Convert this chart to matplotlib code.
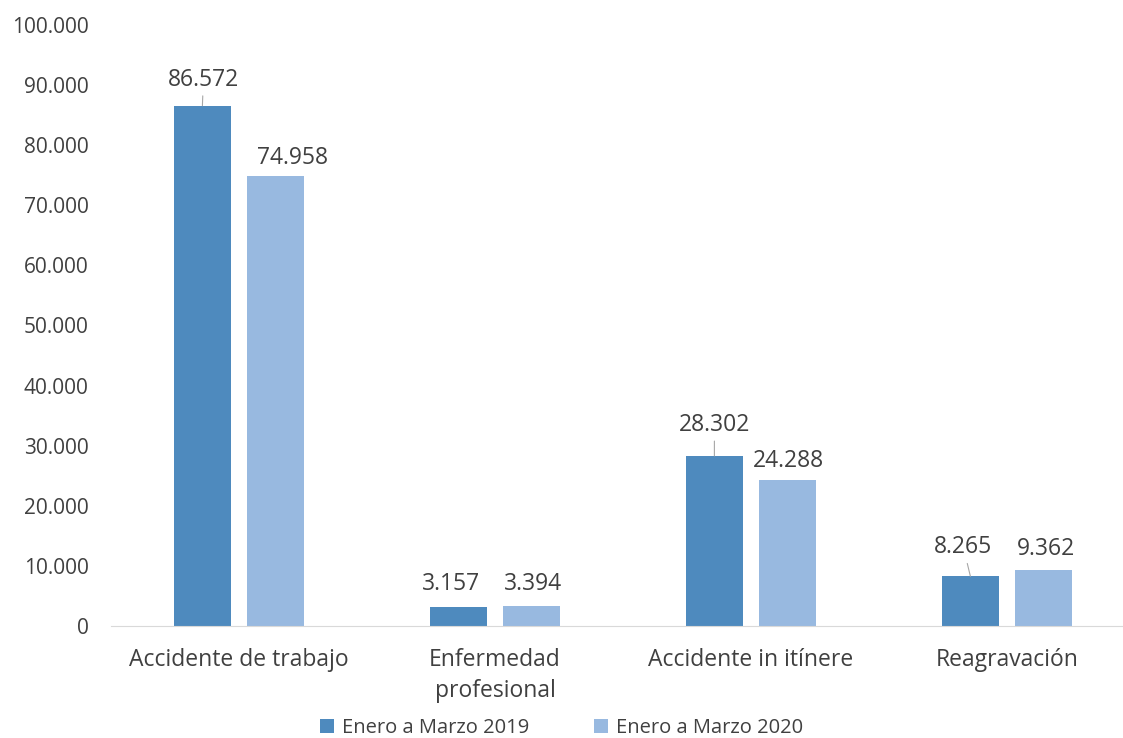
import numpy as np
import matplotlib
matplotlib.use("Agg")
import matplotlib.pyplot as plt
from matplotlib.ticker import FuncFormatter

# datos
categorias = ["Accidente de trabajo", "Enfermedad\nprofesional", "Accidente in itínere", "Reagravación"]
serie_2019 = [86572, 3157, 28302, 8265]
serie_2020 = [74958, 3394, 24288, 9362]
nombres = ["Enero a Marzo 2019", "Enero a Marzo 2020"]

# desplazamiento de las etiquetas en pixeles (dx, dy) y si llevan linea guia
off_2019 = [(1, 14, True), (-7, 11, False), (0, 19, True), (-7, 17, True)]
off_2020 = [(17, 6, False), (1, 10, False), (1, 7, False), (2, 9, False)]

plt.rcParams["font.family"] = ["Open Sans", "DejaVu Sans"]
texto = "#404040"

fig = plt.figure(figsize=(11.23, 7.38), dpi=100)
ax = fig.add_axes([111 / 1123, 1 - 626 / 738, 1024 / 1123, (626 - 25) / 738])

x = np.arange(len(categorias))
ancho = 0.223
sep = 0.143
b1 = ax.bar(x - sep, serie_2019, ancho, color="#4E8ABE", label=nombres[0])
b2 = ax.bar(x + sep, serie_2020, ancho, color="#98B9E0", label=nombres[1])

def fmt(v, pos=None):
    return f"{int(v):,}".replace(",", ".")

for barras, vals, offs in [(b1, serie_2019, off_2019), (b2, serie_2020, off_2020)]:
    for b, v, (dx, dy, guia) in zip(barras, vals, offs):
        cx = b.get_x() + b.get_width() / 2
        props = dict(arrowstyle="-", color="#a6a6a6", lw=0.8, shrinkA=1, shrinkB=0) if guia else None
        ax.annotate(fmt(v), xy=(cx, v), xytext=(dx, dy), textcoords="offset pixels",
                    ha="center", va="bottom", fontsize=16.5, color=texto, arrowprops=props)

ax.set_xlim(-0.5, 3.5)
ax.set_ylim(0, 100000)
ax.set_yticks(np.arange(0, 100001, 10000))
ax.yaxis.set_major_formatter(FuncFormatter(fmt))
ax.set_xticks(x)
ax.set_xticklabels(categorias, fontsize=16.5, color=texto, linespacing=1.4)
ax.tick_params(axis="y", length=0, pad=16, labelsize=15, labelcolor=texto)
ax.tick_params(axis="x", length=0, pad=16)

for s in ["top", "right", "left"]:
    ax.spines[s].set_visible(False)
ax.spines["bottom"].set_color("#d9d9d9")

fig.legend(loc="lower center", bbox_to_anchor=(0.5, -0.025), ncol=2, frameon=False,
           fontsize=14.5, labelcolor=texto, handlelength=0.7, handleheight=0.7,
           handletextpad=0.4, columnspacing=3.2)

fig.savefig("out.png", dpi=100)
